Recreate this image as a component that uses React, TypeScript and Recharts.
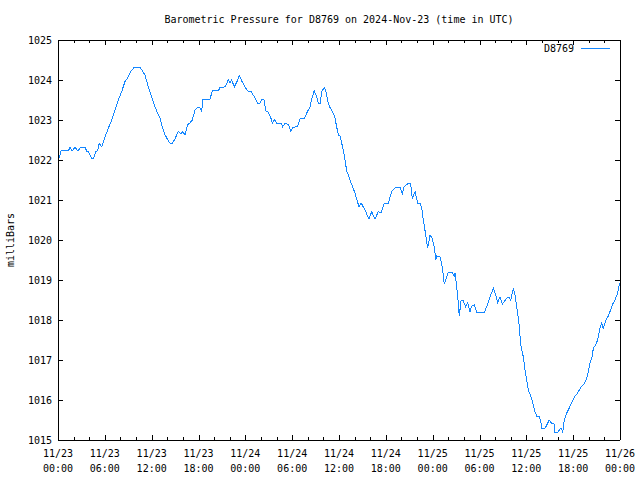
import React from 'react';
import { LineChart, Line, XAxis, YAxis } from 'recharts';

const FONT = '"DejaVu Sans Mono", "Liberation Mono", monospace';
const LINE_COLOR = '#1487ff';

const chartTitle = 'Barometric Pressure for D8769 on 2024-Nov-23 (time in UTC)';
const seriesName = 'D8769';
const yAxisTitle = 'milliBars';

// hours since 2024-11-23 00:00 UTC
const hours = [
  0.13, 0.26, 0.38, 1.32, 1.54, 1.83, 2.18, 2.52, 2.95, 3.46,
  3.68, 3.88, 4.32, 4.52, 4.83, 5.09, 5.29, 5.6, 6.02, 6.44,
  6.88, 7.3, 7.73, 8.16, 8.58, 9.01, 9.35, 9.77, 10.51, 10.8,
  11.15, 11.57, 12.0, 12.43, 12.85, 13.07, 13.28, 13.71, 14.13, 14.35,
  14.64, 14.99, 15.41, 15.76, 15.98, 16.27, 16.62, 16.91, 17.21, 17.55,
  17.9, 18.19, 18.41, 18.58, 19.47, 19.77, 20.54, 20.75, 21.39, 21.82,
  22.04, 22.25, 22.59, 22.89, 23.23, 23.53, 23.96, 24.25, 24.73, 25.15,
  25.58, 25.88, 26.1, 26.39, 26.61, 26.94, 27.29, 27.45, 27.71, 28.02,
  28.57, 28.79, 29.08, 29.5, 29.81, 30.14, 30.66, 31.0, 31.55, 31.86,
  32.28, 32.58, 32.83, 33.14, 33.35, 33.6, 33.78, 34.12, 34.33, 34.63,
  34.85, 35.27, 35.49, 35.7, 35.91, 36.13, 36.55, 36.99, 37.41, 38.05,
  38.56, 38.82, 39.33, 39.84, 40.19, 40.61, 41.03, 41.38, 41.8, 42.31,
  42.75, 43.26, 43.81, 44.11, 44.33, 44.88, 45.18, 45.39, 45.74, 46.08,
  46.38, 46.59, 46.8, 47.11, 47.36, 47.66, 47.95, 48.21, 48.39, 48.51,
  48.94, 49.23, 49.49, 49.8, 50.0, 50.51, 50.77, 50.86, 51.08, 51.28,
  51.41, 51.63, 51.92, 52.23, 52.49, 52.78, 53.0, 53.33, 53.64, 54.61,
  54.92, 55.34, 55.77, 56.07, 56.33, 56.63, 56.92, 57.48, 57.78, 58.0,
  58.33, 58.55, 58.89, 59.1, 59.28, 59.61, 59.83, 60.04, 60.25, 60.69,
  60.89, 61.11, 61.33, 61.66, 61.88, 61.97, 62.39, 62.74, 62.9, 63.25,
  63.54, 63.67, 63.97, 64.31, 64.53, 64.66, 64.86, 65.17, 65.47, 65.81,
  66.14, 66.58, 67.0, 67.42, 67.73, 67.94, 68.15, 68.45, 68.58, 68.88,
  69.14, 69.43, 69.65, 69.86, 70.29, 70.5, 70.72, 71.01, 71.36, 71.7,
  71.91, 72.0,
];

const pressure = [
  1022.05, 1022.13, 1022.23, 1022.23, 1022.31, 1022.23, 1022.32, 1022.23, 1022.32, 1022.32,
  1022.22, 1022.21, 1022.03, 1022.03, 1022.21, 1022.23, 1022.42, 1022.33, 1022.58, 1022.79,
  1023.0, 1023.25, 1023.5, 1023.71, 1023.96, 1024.08, 1024.22, 1024.32, 1024.32, 1024.23,
  1024.12, 1023.83, 1023.58, 1023.33, 1023.13, 1023.04, 1022.88, 1022.63, 1022.48, 1022.42,
  1022.42, 1022.53, 1022.71, 1022.65, 1022.71, 1022.63, 1022.88, 1022.93, 1023.0, 1023.25,
  1023.32, 1023.31, 1023.23, 1023.52, 1023.52, 1023.73, 1023.73, 1023.81, 1023.83, 1024.0,
  1023.94, 1024.0, 1023.83, 1023.94, 1024.11, 1023.98, 1023.83, 1023.73, 1023.71, 1023.58,
  1023.42, 1023.42, 1023.52, 1023.5, 1023.23, 1023.19, 1023.04, 1022.92, 1023.02, 1022.92,
  1022.92, 1022.83, 1022.92, 1022.89, 1022.73, 1022.82, 1022.83, 1023.03, 1023.03, 1023.17,
  1023.33, 1023.58, 1023.73, 1023.58, 1023.42, 1023.42, 1023.71, 1023.81, 1023.71, 1023.42,
  1023.31, 1023.17, 1023.04, 1022.83, 1022.63, 1022.6, 1022.25, 1021.73, 1021.5, 1021.17,
  1020.83, 1020.93, 1020.75, 1020.52, 1020.71, 1020.52, 1020.71, 1020.67, 1020.92, 1020.92,
  1021.21, 1021.32, 1021.32, 1021.15, 1021.33, 1021.42, 1021.42, 1021.04, 1021.21, 1020.92,
  1020.92, 1020.82, 1020.5, 1020.13, 1019.79, 1020.13, 1020.03, 1019.83, 1019.5, 1019.6,
  1019.58, 1019.33, 1018.9, 1019.08, 1019.19, 1019.19, 1019.1, 1019.18, 1018.83, 1018.42,
  1018.1, 1018.48, 1018.48, 1018.33, 1018.43, 1018.21, 1018.35, 1018.38, 1018.19, 1018.19,
  1018.33, 1018.58, 1018.79, 1018.63, 1018.43, 1018.58, 1018.4, 1018.54, 1018.58, 1018.5,
  1018.79, 1018.63, 1018.17, 1017.83, 1017.38, 1017.08, 1016.75, 1016.5, 1016.25, 1016.04,
  1015.88, 1015.71, 1015.6, 1015.6, 1015.42, 1015.29, 1015.29, 1015.42, 1015.5, 1015.42,
  1015.4, 1015.18, 1015.18, 1015.27, 1015.29, 1015.18, 1015.5, 1015.67, 1015.79, 1015.93,
  1016.07, 1016.18, 1016.32, 1016.4, 1016.54, 1016.71, 1016.92, 1017.1, 1017.29, 1017.38,
  1017.5, 1017.79, 1017.92, 1017.79, 1018.04, 1018.1, 1018.21, 1018.38, 1018.5, 1018.67,
  1018.88, 1018.92,
];

const xTicks = [
  0, 2, 4, 6, 8, 10, 12, 14, 16, 18, 20, 22, 24, 26, 28, 30, 32, 34, 36,
  38, 40, 42, 44, 46, 48, 50, 52, 54, 56, 58, 60, 62, 64, 66, 68, 70, 72,
];
const xDateLabels = ['11/23', '11/23', '11/23', '11/23', '11/24', '11/24', '11/24', '11/24', '11/25', '11/25', '11/25', '11/25', '11/26'];
const xTimeLabels = ['00:00', '06:00', '12:00', '18:00', '00:00', '06:00', '12:00', '18:00', '00:00', '06:00', '12:00', '18:00', '00:00'];
const yTicks = [1015, 1016, 1017, 1018, 1019, 1020, 1021, 1022, 1023, 1024, 1025];

const data = hours.map((t, i) => ({ t, p: pressure[i] }));

const textStyle = { fontFamily: FONT, fontSize: 10, fill: '#000' } as const;

const BottomTick = (props: any) => {
  const { x, y, payload } = props;
  const v = payload.value;
  const major = v % 6 === 0;
  const len = major ? 5 : 3;
  const xx = Math.round(x) + 0.5;
  const idx = v / 6;
  return (
    <g>
      <line x1={xx} x2={xx} y1={y} y2={y - len} stroke="#000" strokeWidth={1} shapeRendering="crispEdges" />
      {major && (
        <text x={x} y={y + 17} textAnchor="middle" style={textStyle}>{xDateLabels[idx]}</text>
      )}
      {major && (
        <text x={x} y={y + 32} textAnchor="middle" style={textStyle}>{xTimeLabels[idx]}</text>
      )}
    </g>
  );
};

const TopTick = (props: any) => {
  const { x, y, payload } = props;
  const v = payload.value;
  const len = v % 6 === 0 ? 5 : 3;
  const xx = Math.round(x) + 0.5;
  return <line x1={xx} x2={xx} y1={y} y2={y + len} stroke="#000" strokeWidth={1} shapeRendering="crispEdges" />;
};

const LeftTick = (props: any) => {
  const { x, y, payload } = props;
  const yy = Math.round(y) + 0.5;
  return (
    <g>
      <line x1={x} x2={x + 5} y1={yy} y2={yy} stroke="#000" strokeWidth={1} shapeRendering="crispEdges" />
      <text x={x - 6} y={y + 4} textAnchor="end" style={textStyle}>{payload.value}</text>
    </g>
  );
};

const RightTick = (props: any) => {
  const { x, y } = props;
  const yy = Math.round(y) + 0.5;
  return <line x1={x - 5} x2={x} y1={yy} y2={yy} stroke="#000" strokeWidth={1} shapeRendering="crispEdges" />;
};

const axisLine = { stroke: '#000', strokeWidth: 1, shapeRendering: 'crispEdges' } as any;

export default function App() {
  return (
    <div style={{ position: 'absolute', left: 0, top: 0, width: 640, height: 480, background: '#fff' }}>
      <LineChart width={640} height={480} data={data} margin={{ top: 0, right: 0, bottom: 0, left: 0 }}>
        <XAxis
          xAxisId="b"
          dataKey="t"
          type="number"
          domain={[0, 72]}
          allowDataOverflow
          ticks={xTicks}
          interval={0}
          height={40}
          tickSize={0}
          tickMargin={0}
          tickLine={false}
          axisLine={axisLine}
          tick={(p: any) => <BottomTick {...p} />}
        />
        <XAxis
          xAxisId="top"
          orientation="top"
          dataKey="t"
          type="number"
          domain={[0, 72]}
          allowDataOverflow
          ticks={xTicks}
          interval={0}
          height={40}
          tickSize={0}
          tickMargin={0}
          tickLine={false}
          axisLine={axisLine}
          tick={(p: any) => <TopTick {...p} />}
        />
        <YAxis
          yAxisId="l"
          type="number"
          domain={[1015, 1025]}
          allowDataOverflow
          ticks={yTicks}
          interval={0}
          width={58}
          tickSize={0}
          tickMargin={0}
          tickLine={false}
          axisLine={axisLine}
          tick={(p: any) => <LeftTick {...p} />}
        />
        <YAxis
          yAxisId="r"
          orientation="right"
          type="number"
          domain={[1015, 1025]}
          allowDataOverflow
          ticks={yTicks}
          interval={0}
          width={20}
          tickSize={0}
          tickMargin={0}
          tickLine={false}
          axisLine={axisLine}
          tick={(p: any) => <RightTick {...p} />}
        />
        <Line
          xAxisId="b"
          yAxisId="l"
          type="linear"
          dataKey="p"
          name={seriesName}
          stroke={LINE_COLOR}
          strokeWidth={1}
          shapeRendering="crispEdges"
          dot={false}
          activeDot={false}
          isAnimationActive={false}
        />
      </LineChart>
      <svg
        width={640}
        height={480}
        style={{ position: 'absolute', left: 0, top: 0, pointerEvents: 'none' }}
      >
        <text x={339} y={23} textAnchor="middle" style={textStyle}>{chartTitle}</text>
        <text x={14} y={240} textAnchor="middle" transform="rotate(-90 14 240)" style={textStyle}>{yAxisTitle}</text>
        <text x={574} y={52} textAnchor="end" style={textStyle}>{seriesName}</text>
        <line x1={581} x2={610} y1={48.5} y2={48.5} stroke={LINE_COLOR} strokeWidth={1} shapeRendering="crispEdges" />
      </svg>
    </div>
  );
}
